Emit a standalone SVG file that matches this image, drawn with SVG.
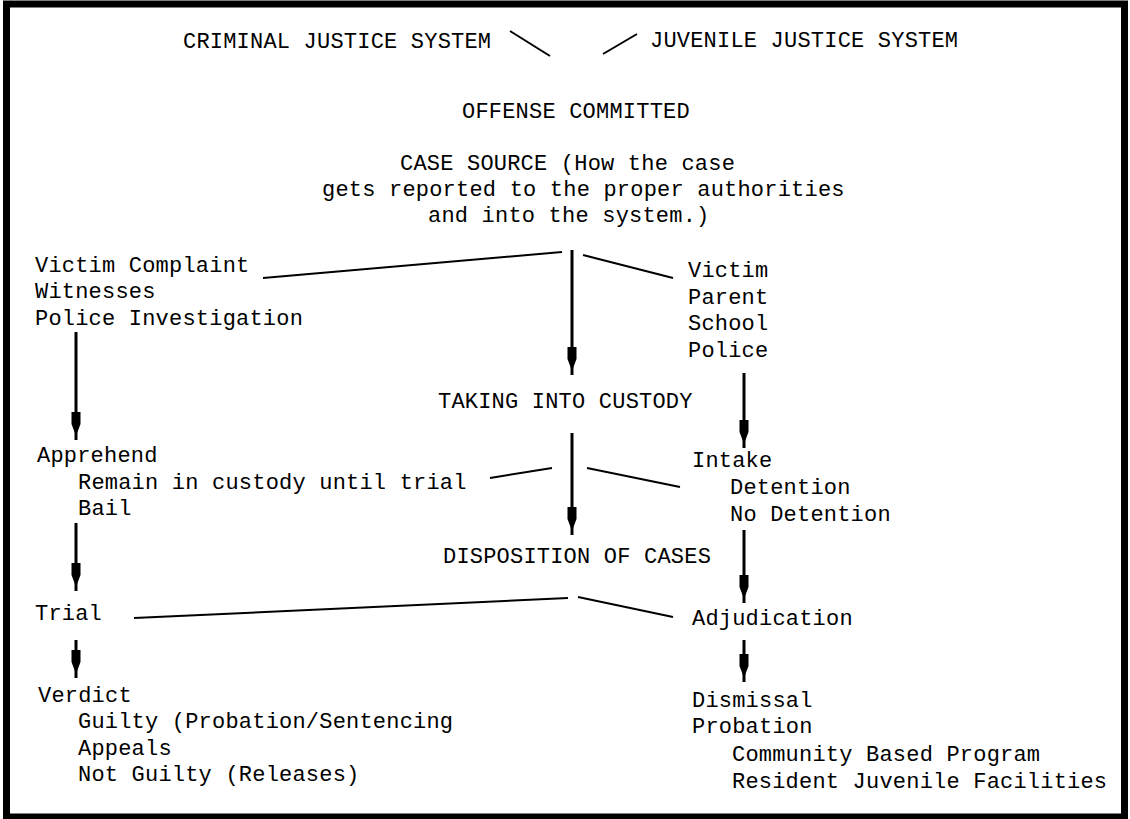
<svg xmlns="http://www.w3.org/2000/svg" width="1130" height="819" viewBox="0 0 1130 819">
  <style>
    text { font-family: "Liberation Mono", "DejaVu Sans Mono", monospace; font-size: 22px; letter-spacing: 0.2px; fill: #000; }
    .ln { stroke: #000; stroke-width: 2; fill: none; }
    .ar { stroke: #000; stroke-width: 3; fill: none; marker-end: url(#ah); }
  </style>
  <defs>
    <marker id="ah" markerUnits="userSpaceOnUse" orient="auto" refX="0" refY="0" markerWidth="40" markerHeight="12" viewBox="-35 -6 40 12" overflow="visible">
      <path d="M-28,-4.5 L-16,-4.5 L-8,-1.5 L-5,0 L-8,1.5 L-16,4.5 L-28,4.5 Z" fill="#000"/>
    </marker>
  </defs>
  <rect x="0" y="0" width="1130" height="819" fill="#fff"/>
  <rect id="frame" x="6.5" y="4" width="1118" height="813" fill="none" stroke="#000" stroke-width="7"/>

  <g id="title-criminal"><text x="183" y="48">CRIMINAL JUSTICE SYSTEM</text></g>
  <g id="title-juvenile"><text x="650" y="47">JUVENILE JUSTICE SYSTEM</text></g>
  <g id="offense"><text x="462" y="118">OFFENSE COMMITTED</text></g>
  <g id="case-source">
    <text x="400" y="170">CASE SOURCE (How the case</text>
    <text x="322" y="196">gets reported to the proper authorities</text>
    <text x="428" y="222">and into the system.)</text>
  </g>
  <g id="criminal-sources">
    <text x="35" y="272">Victim Complaint</text>
    <text x="35" y="298">Witnesses</text>
    <text x="35" y="325">Police Investigation</text>
  </g>
  <g id="juvenile-sources">
    <text x="688" y="277">Victim</text>
    <text x="688" y="304">Parent</text>
    <text x="688" y="330">School</text>
    <text x="688" y="357">Police</text>
  </g>
  <g id="custody"><text x="438" y="408">TAKING INTO CUSTODY</text></g>
  <g id="apprehend">
    <text x="37" y="462">Apprehend</text>
    <text x="78" y="489">Remain in custody until trial</text>
    <text x="78" y="515">Bail</text>
  </g>
  <g id="intake">
    <text x="692" y="467">Intake</text>
    <text x="730" y="494">Detention</text>
    <text x="730" y="521">No Detention</text>
  </g>
  <g id="disposition"><text x="443" y="563">DISPOSITION OF CASES</text></g>
  <g id="trial"><text x="35" y="620">Trial</text></g>
  <g id="adjudication"><text x="692" y="625">Adjudication</text></g>
  <g id="verdict">
    <text x="38" y="702">Verdict</text>
    <text x="78" y="728">Guilty (Probation/Sentencing</text>
    <text x="78" y="755">Appeals</text>
    <text x="78" y="781">Not Guilty (Releases)</text>
  </g>
  <g id="juvenile-outcome">
    <text x="692" y="707">Dismissal</text>
    <text x="692" y="733">Probation</text>
    <text x="732" y="761">Community Based Program</text>
    <text x="732" y="788">Resident Juvenile Facilities</text>
  </g>

  <g id="connectors">
    <line class="ln" x1="510" y1="31" x2="550" y2="56"/>
    <line class="ln" x1="603" y1="54" x2="637" y2="34"/>
    <line class="ln" x1="263" y1="278" x2="562" y2="252"/>
    <line class="ln" x1="583" y1="255" x2="673" y2="278"/>
    <line class="ln" x1="490" y1="478" x2="552" y2="468"/>
    <line class="ln" x1="587" y1="468" x2="680" y2="487"/>
    <line class="ln" x1="134" y1="618" x2="568" y2="598"/>
    <line class="ln" x1="578" y1="597" x2="673" y2="617"/>
    <line class="ar" x1="76" y1="332" x2="76" y2="440"/>
    <line class="ar" x1="572" y1="250" x2="572" y2="375"/>
    <line class="ar" x1="744" y1="373" x2="744" y2="448"/>
    <line class="ar" x1="572" y1="433" x2="572" y2="535"/>
    <line class="ar" x1="76" y1="523" x2="76" y2="591"/>
    <line class="ar" x1="744" y1="530" x2="744" y2="603"/>
    <line class="ar" x1="76" y1="640" x2="76" y2="678"/>
    <line class="ar" x1="744" y1="640" x2="744" y2="682"/>
  </g>
</svg>
